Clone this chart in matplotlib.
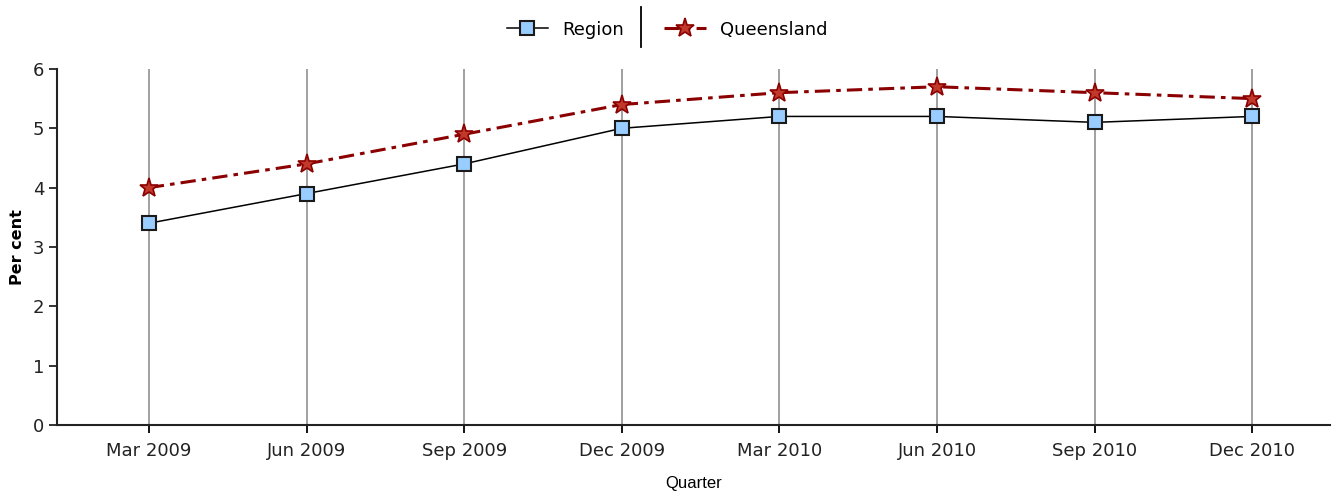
import matplotlib.pyplot as plt
from matplotlib.lines import Line2D

quarters = ['Mar 2009', 'Jun 2009', 'Sep 2009', 'Dec 2009',
            'Mar 2010', 'Jun 2010', 'Sep 2010', 'Dec 2010']
region = [3.4, 3.9, 4.4, 5.0, 5.2, 5.2, 5.1, 5.2]
queensland = [4.0, 4.4, 4.9, 5.4, 5.6, 5.7, 5.6, 5.5]
yticks = [0, 1, 2, 3, 4, 5, 6]

fig = plt.figure(figsize=(13.34, 4.96), dpi=100)
ax = fig.add_axes([0.0427, 0.143, 0.954, 0.718])

x = list(range(len(quarters)))

# vertical grid lines
for xi in x:
    ax.axvline(xi, color='#999999', lw=1.3, zorder=1)

ax.plot(x, region, color='black', lw=1.1, marker='s', markersize=10,
        markerfacecolor='#99ccff', markeredgecolor='#1a1a1a', markeredgewidth=1.5,
        zorder=3, label='Region')
ax.plot(x, queensland, color='#8b0000', lw=2.2, linestyle=(0, (5, 2, 1.5, 2)),
        marker='*', markersize=14, markerfacecolor='#c0392b',
        markeredgecolor='#8b0000', markeredgewidth=1.2, zorder=4, label='Queensland')

ax.set_xlim(-0.583, 7.49)
ax.set_ylim(0, 6)
ax.set_yticks(yticks)
ax.set_xticks(x)
ax.set_xticklabels(quarters, fontsize=13, color='#222222')
ax.tick_params(axis='y', labelsize=13, colors='#222222', length=6, width=1.3, direction='out', pad=3)
ax.tick_params(axis='x', length=6, width=1.3, direction='out', pad=6)

for s in ['top', 'right']:
    ax.spines[s].set_visible(False)
for s in ['left', 'bottom']:
    ax.spines[s].set_linewidth(1.5)
    ax.spines[s].set_color('#222222')

ax.set_ylabel('Per cent', fontsize=11.5, fontweight='bold')
ax.yaxis.set_label_coords(-0.025, 0.5)
ax.set_xlabel('Quarter', fontsize=12, family='Liberation Sans')
ax.xaxis.set_label_coords(0.5, -0.143)

leg = fig.legend(loc='center', bbox_to_anchor=(0.5, 0.94), ncol=2, frameon=False,
                 fontsize=13, handlelength=2.3, columnspacing=2.2, handletextpad=0.8)
fig.add_artist(Line2D([0.4805, 0.4805], [0.905, 0.985], color='black', lw=1.3))

fig.savefig('out.png', dpi=100)
